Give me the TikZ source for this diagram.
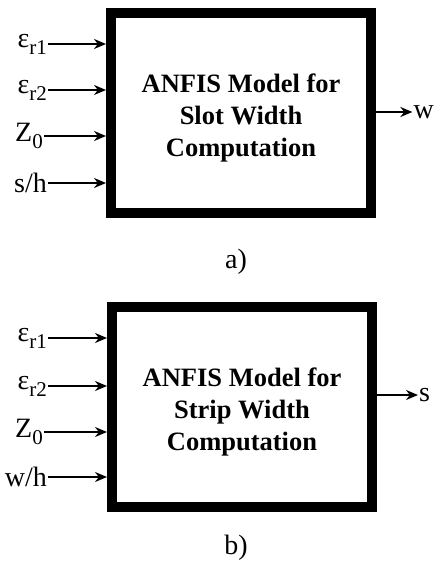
\documentclass[tikz,border=0pt]{standalone}
\usepackage{fontspec}
\setmainfont{Liberation Serif}
\usetikzlibrary{arrows.meta,positioning}
\newcommand{\epsr}[1]{ε\raisebox{-0.55ex}{\fontsize{21}{21}\selectfont r#1}}

\begin{document}
\begin{tikzpicture}[x=1pt,y=-1pt,
			every node/.style={font=\fontsize{28}{32}\selectfont, inner sep=1pt},
			model/.style={draw, line width=10pt, minimum width=260pt, minimum height=200pt},
			modeltext/.style={align=center, font=\fontsize{26.5}{32}\selectfont\bfseries},
			inp/.style={anchor=east},
			arr/.style={-{Stealth[length=12pt,width=10pt]}, line width=2pt}]
			\useasboundingbox (0,0) rectangle (435,567);
			% a) slot width
			\node[model] (ma) at (241,113) {};
			\node[modeltext] (ta) at ([yshift=-5pt]ma.center) {ANFIS Model for\\Slot Width\\Computation};
			\node[inp] (a1) at (48,44) {\epsr{1}};
			\node[inp] (a2) at (48,90) {\epsr{2}};
			\node[inp] (a3) at (44,136) {Z\raisebox{-0.55ex}{\fontsize{21}{21}\selectfont 0}};
			\node[inp] (a4) at (48,183) {s/h};
			\foreach \i in {1,...,4}
				\draw[arr] (a\i) -- (a\i -| ma.west);
			\node[anchor=east] (wa) at (435,112) {w};
			\draw[arr] (ma.east |- wa) -- (wa);
			\node (la) at (236,262) {a)};
			% b) strip width
			\node[model] (mb) at (242,407) {};
			\node[modeltext] (tb) at ([yshift=-5pt]mb.center) {ANFIS Model for\\Strip Width\\Computation};
			\node[inp] (b1) at (48,338) {\epsr{1}};
			\node[inp] (b2) at (48,386) {\epsr{2}};
			\node[inp] (b3) at (44,432) {Z\raisebox{-0.55ex}{\fontsize{21}{21}\selectfont 0}};
			\node[inp] (b4) at (48,477) {w/h};
			\foreach \i in {1,...,4}
				\draw[arr] (b\i) -- (b\i -| mb.west);
			\node[anchor=west] (sb) at (418,395) {s};
			\draw[arr] (mb.east |- sb) -- (sb);
			\node (lb) at (236,548) {b)};
		\end{tikzpicture}
\end{document}
